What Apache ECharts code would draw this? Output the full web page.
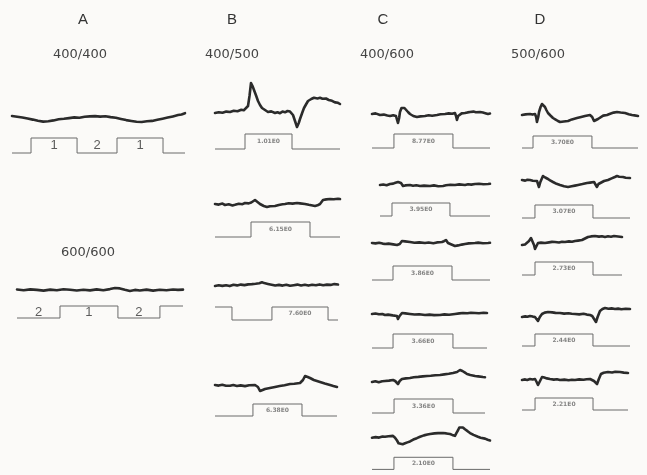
<!DOCTYPE html>
<html>
<head>
<meta charset="utf-8">
<script src="https://cdn.jsdelivr.net/npm/echarts@6/dist/echarts.min.js"></script>
<style>
  html, body { margin: 0; padding: 0; background: #fbfaf8; }
  #chart { width: 647px; height: 475px; }
</style>
</head>
<body>
<div id="chart"></div>
<script>
// Column headings and wavelength pairs
const columnLetters = ['A', 'B', 'C', 'D'];
const wavelengthPairs = ['400/400', '400/500', '400/600', '500/600', '600/600'];

// Response traces: [sweep time %, amplitude]
const traceA1 = [[0,3.0],[3,2.2],[6,1.5],[9,0.4],[12,-0.6],[15,-1.8],[18,-2.6],[21,-2.2],[24,-1.4],[27,-0.3],[30,0.2],[33,0.9],[36,1.6],[39,1.3],[42,2.2],[45,2.6],[48,2.9],[51,2.4],[54,2.8],[57,1.9],[60,1.2],[63,0.1],[66,-1.1],[69,-2.0],[72,-2.8],[75,-3.0],[78,-2.3],[81,-1.9],[84,-0.8],[87,0.3],[90,1.4],[93,2.6],[96,3.9],[98,4.6],[100,5.8]];
const traceA2 = [[0,0.5],[4,-0.3],[8,0.6],[12,0.1],[16,-0.6],[20,0.4],[24,-0.2],[28,0.7],[32,0.2],[36,-0.5],[40,0.3],[44,-0.4],[48,0.6],[52,-0.3],[56,0.9],[59,2.0],[62,1.6],[65,0.2],[68,-0.9],[71,0.1],[74,-0.5],[78,0.4],[82,-0.6],[86,0.2],[90,-0.3],[94,0.5],[97,0.1],[100,0.4]];
const traceB1 = [[0,-3],[3,-2.2],[6,-2.8],[9,-1.6],[12,-2.0],[15,-0.8],[18,-1.2],[21,0.2],[23,-0.3],[24.5,0.8],[26.4,4],[27.6,14],[28.8,27],[30,24],[31.2,20],[33,14],[34.4,9],[36,5],[37.6,2],[40,0],[42.4,-2],[45,-1.4],[48,-3],[50,-2.2],[52,-3.2],[54,-1.6],[56,-2.3],[58,-1.0],[60,-1.6],[61.6,-0.6],[62.4,-5],[64,-11],[65.6,-17],[67,-13],[68,-9],[70,-2],[71.2,2],[73,6],[74.4,9],[77,11],[79.2,12.3],[82,11.6],[84,12.2],[86,11.3],[88.8,11.5],[91,10],[93.6,9.2],[96,7.6],[98.4,7.2],[100,6]];
const traceB2 = [[0,0],[3,-0.6],[6,0.4],[8,-1],[11,-0.3],[14,-1.4],[16,-0.8],[19,0.3],[22,-0.2],[24,1],[27,0.6],[29,1.5],[30.5,3],[32,4],[34,2],[36,0],[39,-2],[41.6,-3],[44,-2.2],[48,-2],[51,-1],[54,-0.3],[56,0],[59,0.8],[62,0.4],[65.6,1],[68,0.6],[72,0],[75,-0.8],[78,-1.5],[80,-2],[82,-1.3],[84,0],[86.4,4],[89,4.6],[92,5],[95,4.8],[98.4,5.2],[100,5]];
const traceB3 = [[0,-1],[3,-0.3],[6,-0.9],[9,-0.2],[12,-1.1],[15,0.2],[18,-0.4],[21,0.4],[24,-0.1],[27,0.6],[30,0.9],[33,1.3],[36,1.8],[38.2,2.7],[40,1.9],[43,1.1],[46,0.3],[49,-0.5],[52,0.1],[55,-0.6],[58,0.2],[61,-0.8],[64,-0.2],[67,0.4],[70,-0.5],[73,0.3],[76,-0.6],[79,0.2],[82,-0.3],[85,0.6],[88,-0.2],[91,0.4],[94,0.1],[97,0.9],[100,0.5]];
const traceB4 = [[0,1],[3,0.4],[6,1.2],[9,0.3],[12.3,0.2],[15,0.9],[18,0],[21,0.6],[24.6,-0.1],[28,0.7],[32.8,1],[35.2,-1],[36.9,-5],[39,-4],[41,-3],[45,-2],[49.2,-1],[53,0],[57,0.8],[61.5,2],[65,2.2],[69.7,3],[72.1,6],[73.8,10],[76,9],[77.9,8],[81,6],[86.1,4],[90,2.5],[94.3,1],[97,0],[100,-1]];
const traceC1 = [[0,0],[3,0.6],[6.8,-1],[10,-0.6],[13,-1.5],[15.3,-2],[18,-1.2],[20.3,-2],[21.2,-4],[22,-9],[23,-4],[23.7,2],[25,6],[26.3,8],[27.5,6],[28.8,4],[30.5,2],[32.2,0],[35,-2],[38.1,-3],[41,-2.4],[44.9,-2],[48,-1.2],[51,-1.7],[55.1,-1],[58,-0.3],[61.9,0],[65,0.6],[68,0.2],[70.3,1],[71.2,-2],[72,-6],[73,-2],[73.7,0],[76,0.6],[78.8,1],[81,1.6],[83.1,2],[86,2.4],[88,1.8],[91.5,2],[94,1.4],[96,0.8],[98.3,0],[100,0.4]];
const traceC2 = [[0,0],[3,0.5],[6,-0.2],[9.1,1],[12,1.4],[14,2.2],[16.4,3],[18,2.4],[19.1,2],[20.9,-1],[23,-0.4],[27.3,0],[30,-0.7],[33,-0.2],[36.4,-1],[40,-0.6],[45.5,-1],[49,-0.4],[53,-1.2],[57.3,-1],[60,-0.3],[64,0.2],[68.2,0],[72,0.6],[77.3,0],[80,0.7],[83,0.4],[86.4,1],[90,1.2],[94,0.8],[98.2,1],[100,1.2]];
const traceC3 = [[0,0],[3,-0.4],[6,0.3],[9,-0.6],[11,-1],[14,-0.6],[18,-1.4],[21.2,-2],[22,-4],[23.5,-1],[25.4,2],[28,1.6],[32.2,1],[36,0.3],[40,0.6],[44.9,0],[48,0.5],[52,-0.2],[55,0.6],[59.3,1],[61,1.8],[62.7,3],[63.5,1],[64.4,0],[66,-1.5],[70.3,-3],[73,-2.4],[76,-1.6],[78.8,-1],[82,-0.4],[87.3,0],[90,0.4],[94,-0.2],[98.3,0],[100,0.2]];
const traceC4 = [[0,0],[3,0.5],[6,-0.3],[9,0],[11.3,-1],[14,-0.6],[18,-1.4],[21.7,-2],[22.6,-5],[24,-2],[26.1,1],[29,0.6],[33,0],[37,-0.5],[41,-0.2],[46.1,-1],[50,-0.6],[54,-1.1],[59.1,-1],[63,-0.4],[67,-0.8],[72.2,0],[76,0.6],[79.1,1],[83,0.7],[86,1.3],[89.6,1],[93,0.7],[97,1.2],[100,1]];
const traceC5 = [[0,-4],[3,-3.2],[6,-4.2],[9,-3.3],[11.5,-3],[15,-2.6],[18.6,-2],[20.5,-3],[23,-6],[24.5,-3],[26.5,-1],[30,-0.4],[33.6,0],[37,0.8],[41,1.1],[45,1.6],[48.7,2],[52,2.3],[56,2.8],[60.2,3],[64,3.6],[68,4.2],[71.7,5],[75.2,6],[77.9,8],[80,7],[82,5.6],[84.1,4],[87,3.1],[91.2,2],[94,1.6],[98.2,1],[100,0.8]];
const traceC6 = [[0,-2],[3,-1.4],[6,-1.9],[9,-0.8],[11,-1],[14,-0.4],[17.8,0],[19.5,-2],[21.2,-5],[22.5,-8],[23.7,-10],[26,-9],[28,-8],[30,-7],[32.2,-6],[35,-4],[38,-2.5],[40.7,-1],[44,0.5],[47,1.4],[49.2,2],[53,2.6],[56,2.9],[60.2,3],[63,2.6],[66.1,2],[68,1],[70.3,0],[71.5,3],[72.9,6],[74,9],[75.4,11],[77,9],[78.8,7],[81,5],[83.1,3],[86,1],[89.8,-1],[92,-2],[95.8,-3],[98,-4.2],[100,-5]];
const traceD1 = [[0,0],[3,0.6],[6.9,1],[9,0.4],[11.2,1],[12.2,-2],[12.9,-7],[14,-2],[14.7,3],[16,8],[17.2,11],[18.5,10],[19.8,8],[21,5],[22.4,2],[24.5,-0.5],[26.7,-3],[29,-4.6],[31,-6],[32.8,-7],[36,-6.5],[39.7,-6],[43,-4.4],[47.4,-3],[51,-2],[54.3,-1],[58.6,0],[60.5,-2],[62.1,-6],[63.8,-7],[65.5,-4],[67.2,-2],[70,-0.6],[73.3,0],[76,1.2],[79,2.4],[81.9,3],[85,2.5],[88.8,2],[92,0.8],[94.8,0],[97,-0.4],[100,-1]];
const traceD2 = [[0,1],[3,0.4],[5,1.2],[7.4,1],[10,0.3],[13.9,0],[14.8,-3],[15.7,-6],[17,-1],[19.4,5],[21.5,3.5],[24.1,2],[26,0.6],[28.7,-1],[32,-2.8],[35.2,-4],[39,-5.3],[42.6,-6],[46,-5.2],[49,-4.6],[51.9,-4],[56,-3.1],[60.2,-2],[63,-1.6],[66.7,-1],[68,-3],[69.4,-6],[70.8,-3],[72.2,-1],[76,0],[79.6,1],[83,2.6],[86,4],[88,5],[90,4.3],[93.5,4],[96,3.3],[100,3]];
const traceD3 = [[0,-2],[3,-1.4],[5,-1],[7,2],[9,5],[10,4.2],[11,3],[12,-2],[13,-6],[14.5,-3],[16,0],[19,0.4],[23,0],[27,0.6],[30,1.1],[33,1],[37,0.5],[40,1.2],[43,1],[47,1.6],[50,1.2],[53,2],[56,2.4],[60,3],[63,4.5],[66,6],[69,6.6],[73,7],[77,6.4],[80,6.8],[83,6],[86,6.7],[89,6.3],[92,7],[96,6.5],[100,6]];
const traceD4 = [[0,-3],[3,-2.4],[5,-2.8],[7.4,-2],[10,-2.6],[12,-3],[13.5,-5],[14.8,-7],[16.5,-3],[18.5,0],[21,1.4],[24.1,2],[28,1.6],[31,1.1],[35.2,1],[39,0.4],[43,0.8],[46,0.2],[49.1,0],[53,-0.4],[57,0.2],[60,-0.6],[63,-1],[65,-2],[66.7,-4],[68.5,-8],[70,-3],[72.2,3],[74.5,5],[76.9,6],[80,5.3],[83,5.6],[86.1,5],[89,5.4],[92,4.8],[96,5.3],[100,5]];
const traceD5 = [[0,-1],[3,-0.4],[5,-0.9],[7.5,0],[10,-0.5],[12.3,0],[13.8,-3],[15.1,-6],[17,-2],[18.9,2],[21,1.4],[23.5,0.6],[26.4,0],[30,-0.6],[33,-0.2],[35.8,-1],[40,-0.6],[44,-1.2],[47,-0.7],[50,-1],[54,-0.4],[58,-0.8],[61,-0.2],[64.2,0],[66,-0.8],[67.9,-2],[69.3,-4],[70.8,-5],[72.5,0],[74.5,5],[77,6.2],[81.1,7],[85,6.5],[88,7.2],[92.5,7],[96,6.4],[100,6]];

// Stimulus "on" intervals (sweep time %)
const stimA1 = [[11.0, 37.6], [60.7, 87.3]];
const stimA2 = [[25.9, 60.8], [86.1, 100]];
const stimB1 = [[24.0, 61.6]];
const stimB2 = [[28.8, 76.0]];
const stimB3 = [[0, 13.8], [46.3, 91.9]];
const stimB4 = [[31.1, 71.3]];
const stimC1 = [[18.6, 68.6]];
const stimC2 = [[10.9, 63.6]];
const stimC3 = [[17.8, 67.8]];
const stimC4 = [[18.3, 70.4]];
const stimC5 = [[19.5, 71.7]];
const stimC6 = [[18.6, 68.6]];
const stimD1 = [[9.5, 60.3]];
const stimD2 = [[12.0, 65.7]];
const stimD3 = [[13.0, 71.0]];
const stimD4 = [[12.0, 65.7]];
const stimD5 = [[12.3, 67.0]];

// Labels written on each stimulus segment (in order along the sweep)
const segA1 = ['', '1', '2', '1', ''];
const segA2 = ['2', '1', '2', ''];
const intensityB = ['1.01E0', '6.15E0', '7.60E0', '6.38E0'];
const intensityC = ['8.77E0', '3.95E0', '3.86E0', '3.66E0', '3.36E0', '2.10E0'];
const intensityD = ['3.70E0', '3.07E0', '2.73E0', '2.44E0', '2.21E0'];

// Panel placement: sweep extent (x0..x1), trace baseline y, stimulus high / low y
const panels = [
  { trace: traceA1, stim: stimA1, seg: segA1, big: true, x0: 12, x1: 185, y: 119, hi: 138, lo: 153 },
  { trace: traceA2, stim: stimA2, seg: segA2, big: true, x0: 17, x1: 183, y: 290, hi: 306, lo: 318 },
  { trace: traceB1, stim: stimB1, seg: ['', intensityB[0], ''], x0: 215, x1: 340, y: 110, hi: 134, lo: 149 },
  { trace: traceB2, stim: stimB2, seg: ['', intensityB[1], ''], x0: 215, x1: 340, y: 204, hi: 222, lo: 237 },
  { trace: traceB3, stim: stimB3, seg: ['', '', intensityB[2], ''], x0: 215, x1: 338, y: 285, hi: 307, lo: 320 },
  { trace: traceB4, stim: stimB4, seg: ['', intensityB[3], ''], x0: 215, x1: 337, y: 386, hi: 404, lo: 416 },
  { trace: traceC1, stim: stimC1, seg: ['', intensityC[0], ''], x0: 372, x1: 490, y: 114, hi: 134, lo: 148 },
  { trace: traceC2, stim: stimC2, seg: ['', intensityC[1], ''], x0: 380, x1: 490, y: 185, hi: 203, lo: 216 },
  { trace: traceC3, stim: stimC3, seg: ['', intensityC[2], ''], x0: 372, x1: 490, y: 243, hi: 266, lo: 280 },
  { trace: traceC4, stim: stimC4, seg: ['', intensityC[3], ''], x0: 372, x1: 487, y: 314, hi: 334, lo: 348 },
  { trace: traceC5, stim: stimC5, seg: ['', intensityC[4], ''], x0: 372, x1: 485, y: 378, hi: 399, lo: 413 },
  { trace: traceC6, stim: stimC6, seg: ['', intensityC[5], ''], x0: 372, x1: 490, y: 438, hi: 461, lo: 474 },
  { trace: traceD1, stim: stimD1, seg: ['', intensityD[0], ''], x0: 522, x1: 638, y: 115, hi: 136, lo: 148 },
  { trace: traceD2, stim: stimD2, seg: ['', intensityD[1], ''], x0: 522, x1: 630, y: 181, hi: 205, lo: 218 },
  { trace: traceD3, stim: stimD3, seg: ['', intensityD[2], ''], x0: 522, x1: 622, y: 243, hi: 262, lo: 275 },
  { trace: traceD4, stim: stimD4, seg: ['', intensityD[3], ''], x0: 522, x1: 630, y: 314, hi: 334, lo: 346 },
  { trace: traceD5, stim: stimD5, seg: ['', intensityD[4], ''], x0: 522, x1: 628, y: 379, hi: 398, lo: 410 }
];

// Turn "on" intervals into a step polyline at the given levels
function stepLine(intervals, hiVal, loVal) {
  const pts = [];
  const startsOn = intervals[0][0] === 0;
  pts.push([0, startsOn ? hiVal : loVal]);
  intervals.forEach(([a, b]) => {
    if (a > 0) { pts.push([a, loVal]); pts.push([a, hiVal]); }
    if (b < 100) { pts.push([b, hiVal]); pts.push([b, loVal]); }
    else pts.push([100, hiVal]);
  });
  if (intervals[intervals.length - 1][1] < 100) pts.push([100, loVal]);
  return pts;
}

// Segment boundaries along the sweep, for placing segment labels
function segments(intervals) {
  const cuts = [0];
  intervals.forEach(([a, b]) => { if (a > 0) cuts.push(a); if (b < 100) cuts.push(b); });
  cuts.push(100);
  const out = [];
  for (let i = 0; i < cuts.length - 1; i++) out.push([cuts[i], cuts[i + 1]]);
  return out;
}

const grids = [], xAxes = [], yAxes = [], series = [];
panels.forEach((p, i) => {
  const top = p.y - 32;
  const bottom = p.lo + 6;
  grids.push({ left: p.x0, top: top, width: p.x1 - p.x0, height: bottom - top });
  xAxes.push({ gridIndex: i, type: 'value', min: 0, max: 100, show: false });
  yAxes.push({ gridIndex: i, type: 'value', min: -(bottom - p.y), max: p.y - top, show: false });

  const hiVal = p.y - p.hi, loVal = p.y - p.lo;
  series.push({
    type: 'line', xAxisIndex: i, yAxisIndex: i, data: p.trace,
    symbol: 'none', silent: true,
    lineStyle: { color: '#2b2b2b', width: 2.6, join: 'round', cap: 'round' }
  });
  series.push({
    type: 'line', xAxisIndex: i, yAxisIndex: i, data: stepLine(p.stim, hiVal, loVal),
    symbol: 'none', silent: true,
    lineStyle: { color: '#6a6a6a', width: 1 }
  });
  const segs = segments(p.stim);
  const labelPts = [];
  segs.forEach((s, k) => {
    const txt = p.seg[k];
    if (txt) labelPts.push({ value: [(s[0] + s[1]) / 2, (hiVal + loVal) / 2], name: txt });
  });
  series.push({
    type: 'scatter', xAxisIndex: i, yAxisIndex: i, data: labelPts,
    symbolSize: 0, silent: true,
    label: {
      show: true, position: 'inside',
      formatter: d => d.name,
      color: p.big ? '#333' : '#666',
      fontSize: p.big ? 13 : 6,
      fontWeight: p.big ? 'normal' : 'bold',
      fontFamily: p.big ? 'Liberation Sans, Arial, sans-serif' : 'DejaVu Sans, sans-serif'
    }
  });
});

// Column headings and wavelength pair captions
const headX = [83, 232, 383, 540];
const pairPos = [[80, 55], [232, 55], [387, 55], [538, 55], [88, 253]];
const graphics = [];
columnLetters.forEach((c, i) => graphics.push({
  type: 'text', x: headX[i], y: 20,
  style: { text: c, fill: '#333', font: '15px "Liberation Sans", Arial, sans-serif', textAlign: 'center', textVerticalAlign: 'middle' }
}));
wavelengthPairs.forEach((t, i) => graphics.push({
  type: 'text', x: pairPos[i][0], y: pairPos[i][1],
  style: { text: t, fill: '#444', font: '13px "DejaVu Sans", sans-serif', textAlign: 'center', textVerticalAlign: 'middle' }
}));

const chart = echarts.init(document.getElementById('chart'), null, { renderer: 'canvas' });
chart.setOption({
  backgroundColor: '#fbfaf8',
  animation: false,
  grid: grids,
  xAxis: xAxes,
  yAxis: yAxes,
  series: series,
  graphic: graphics
});
</script>
</body>
</html>
